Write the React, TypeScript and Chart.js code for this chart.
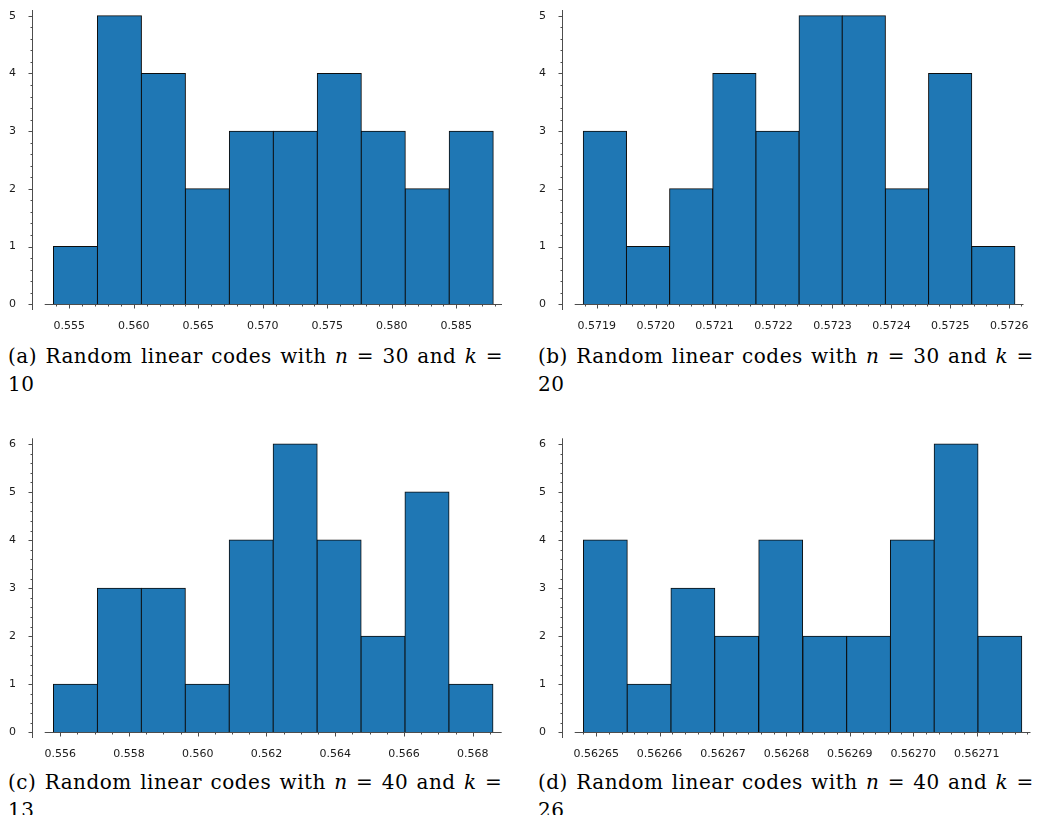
import React, { useEffect, useRef } from "react";
import { Chart, registerables } from "chart.js";
Chart.register(...registerables);

// ---------- data ----------
const aEdges = [0.553773, 0.557181, 0.56059, 0.563998, 0.567407, 0.570815, 0.574223, 0.577632, 0.58104, 0.584449, 0.587857];
const aCounts = [1, 5, 4, 2, 3, 3, 4, 3, 2, 3];
const aTicks = [0.555, 0.56, 0.565, 0.57, 0.575, 0.58, 0.585];
const aTickLabels = ["0.555", "0.560", "0.565", "0.570", "0.575", "0.580", "0.585"];

const bEdges = [0.5718773, 0.5719505, 0.5720237, 0.572097, 0.5721702, 0.5722434, 0.5723166, 0.5723898, 0.5724631, 0.5725363, 0.5726095];
const bCounts = [3, 1, 2, 4, 3, 5, 5, 2, 4, 1];
const bTicks = [0.5719, 0.572, 0.5721, 0.5722, 0.5723, 0.5724, 0.5725, 0.5726];
const bTickLabels = ["0.5719", "0.5720", "0.5721", "0.5722", "0.5723", "0.5724", "0.5725", "0.5726"];

const cEdges = [0.555805, 0.557083, 0.558361, 0.559639, 0.560917, 0.562195, 0.563473, 0.564751, 0.566029, 0.567307, 0.568585];
const cCounts = [1, 3, 3, 1, 4, 6, 4, 2, 5, 1];
const cTicks = [0.556, 0.558, 0.56, 0.562, 0.564, 0.566, 0.568];
const cTickLabels = ["0.556", "0.558", "0.560", "0.562", "0.564", "0.566", "0.568"];

const dEdges = [0.562648, 0.5626549, 0.5626618, 0.5626687, 0.5626756, 0.5626826, 0.5626895, 0.5626964, 0.5627033, 0.5627102, 0.5627171];
const dCounts = [4, 1, 3, 2, 4, 2, 2, 4, 6, 2];
const dTicks = [0.56265, 0.56266, 0.56267, 0.56268, 0.56269, 0.5627, 0.56271];
const dTickLabels = ["0.56265", "0.56266", "0.56267", "0.56268", "0.56269", "0.56270", "0.56271"];

const yTicksFive = [0, 1, 2, 3, 4, 5];
const yTicksSix = [0, 1, 2, 3, 4, 5, 6];

const captionLetters = ["(a)", "(b)", "(c)", "(d)"];
const nValues = ["30", "30", "40", "40"];
const kValues = ["10", "20", "13", "26"];

// ---------- style ----------
const BAR_FILL = "#1f77b4";
const BAR_EDGE = "#0d0d0d";
const AXIS_COLOR = "#4d4d4d";
const LABEL_COLOR = "#1a1a1a";
const Y_W = 25;
const X_H = 20;
const GAP = 11.7;
const TICK_FONT = "'DejaVu Sans', 'Liberation Sans', Verdana, sans-serif";
const CAPTION_FONT = "'DejaVu Serif', 'Liberation Serif', 'Noto Serif', 'Times New Roman', serif";

const sageAxes = {
  id: "sageAxes",
  afterDatasetsDraw(chart: any, _args: any, opts: any) {
    const { ctx, chartArea: ca, scales } = chart;
    const x = scales.x;
    const y = scales.y;
    ctx.save();
    ctx.strokeStyle = AXIS_COLOR;
    ctx.lineWidth = 1;
    const seg = (x1: number, y1: number, x2: number, y2: number) => {
      ctx.beginPath();
      ctx.moveTo(x1, y1);
      ctx.lineTo(x2, y2);
      ctx.stroke();
    };
    // y axis
    const ax = Math.round(ca.left) - 0.5;
    seg(ax, ca.top, ax, ca.bottom);
    const yt: number[] = opts.yTicks;
    yt.forEach((v) => {
      const py = Math.round(y.getPixelForValue(v)) + 0.5;
      seg(ax - 4, py, ax, py);
    });
    const ySub = opts.ySub;
    const yStep = yt[1] - yt[0];
    for (let k = 0; k <= (yt.length - 1) * ySub + ySub; k++) {
      if (k % ySub === 0) continue;
      const v = yt[0] + (k * yStep) / ySub;
      if (v < y.min || v > y.max) continue;
      const py = Math.round(y.getPixelForValue(v)) + 0.5;
      seg(ax - 2, py, ax, py);
    }
    // x axis at y = 0
    const y0 = Math.round(y.getPixelForValue(0)) + 0.5;
    const xs = x.getPixelForValue(opts.lo);
    seg(xs, y0, ca.right, y0);
    const xt: number[] = opts.xTicks;
    const xStep = xt[1] - xt[0];
    xt.forEach((v) => {
      const px = Math.round(x.getPixelForValue(v)) + 0.5;
      seg(px, y0, px, y0 + 4);
    });
    const sub = opts.xSub;
    for (let k = -sub; k <= (xt.length - 1) * sub + sub; k++) {
      if (k % sub === 0) continue;
      const v = xt[0] + (k * xStep) / sub;
      if (v < opts.lo || v > x.max) continue;
      const px = Math.round(x.getPixelForValue(v)) + 0.5;
      seg(px, y0, px, y0 + 2);
    }
    ctx.restore();
  },
};

type Cfg = {
  left: number;
  top: number;
  width: number;
  height: number;
  padTop: number;
  padRight: number;
};

function Histogram(props: {
  edges: number[];
  counts: number[];
  ticks: number[];
  tickLabels: string[];
  yTicks: number[];
  xSub: number;
  cfg: Cfg;
}) {
  const ref = useRef<HTMLCanvasElement>(null);
  const { edges, counts, ticks, tickLabels, yTicks, xSub, cfg } = props;
  useEffect(() => {
    const lo0 = edges[0];
    const hi0 = edges[edges.length - 1];
    const pad = 0.02 * (hi0 - lo0);
    const lo = lo0 - pad;
    const hi = hi0 + pad;
    const plotW = cfg.width - Y_W - cfg.padRight;
    const xmin = lo - (GAP * (hi - lo)) / (plotW - GAP);
    const ymax = Math.max(...counts);
    const data = counts.map((c, i) => ({ x: (edges[i] + edges[i + 1]) / 2, y: c }));
    const font = { family: TICK_FONT, size: 11 };
    const chart = new Chart(ref.current as HTMLCanvasElement, {
      type: "bar",
      data: {
        datasets: [
          {
            data: data as any,
            backgroundColor: BAR_FILL,
            borderColor: BAR_EDGE,
            borderWidth: 1,
            borderSkipped: "start",
            inflateAmount: 0.5,
            barPercentage: 1,
            categoryPercentage: 1,
          } as any,
        ],
      },
      options: {
        responsive: false,
        animation: false,
        devicePixelRatio: 1,
        layout: { padding: { top: cfg.padTop, right: cfg.padRight, left: 0, bottom: 0 } },
        plugins: {
          legend: { display: false },
          tooltip: { enabled: false },
          sageAxes: { lo, xTicks: ticks, xSub, yTicks, ySub: 5 },
        } as any,
        scales: {
          x: {
            type: "linear",
            min: xmin,
            max: hi,
            bounds: "data",
            offset: false,
            grid: { display: false },
            border: { display: false },
            afterBuildTicks: (s: any) => {
              s.ticks = ticks.map((v) => ({ value: v }));
            },
            afterFit: (s: any) => {
              s.height = X_H;
              s.paddingLeft = 0;
              s.paddingRight = 0;
            },
            ticks: {
              autoSkip: false,
              maxRotation: 0,
              padding: 2,
              color: LABEL_COLOR,
              font,
              callback: (_v: any, i: number) => tickLabels[i],
            },
          },
          y: {
            type: "linear",
            min: -0.02 * ymax,
            max: 1.02 * ymax,
            bounds: "data",
            grid: { display: false },
            border: { display: false },
            afterBuildTicks: (s: any) => {
              s.ticks = yTicks.map((v) => ({ value: v }));
            },
            afterFit: (s: any) => {
              s.width = Y_W;
              s.paddingTop = 0;
              s.paddingBottom = 0;
            },
            ticks: {
              padding: 9,
              color: LABEL_COLOR,
              font,
              callback: (v: any) => String(v),
            },
          },
        } as any,
      },
      plugins: [sageAxes as any],
    });
    return () => chart.destroy();
  }, []);
  return (
    <canvas
      ref={ref}
      width={cfg.width}
      height={cfg.height}
      style={{ position: "absolute", left: cfg.left, top: cfg.top, width: cfg.width, height: cfg.height }}
    />
  );
}

function Caption(props: { i: number; left: number; top: number }) {
  const { i, left, top } = props;
  return (
    <div
      style={{
        position: "absolute",
        left,
        top,
        fontFamily: CAPTION_FONT,
        fontSize: 20,
        lineHeight: "28px",
        color: "#000",
        whiteSpace: "nowrap",
        letterSpacing: "0.5px",
        wordSpacing: "1.5px",
      }}
    >
      {captionLetters[i]} Random linear codes with <i>n</i> = {nValues[i]} and <i>k</i> =
      <br />
      {kValues[i]}
    </div>
  );
}

export default function App() {
  // positions relative to #root (page - 8)
  const cA: Cfg = { left: 0, top: 0, width: 506, height: 322, padTop: 2, padRight: 12 };
  const cB: Cfg = { left: 530, top: 0, width: 502, height: 322, padTop: 2, padRight: 16.5 };
  const cC: Cfg = { left: 0, top: 428, width: 506, height: 322, padTop: 2.3, padRight: 12.3 };
  const cD: Cfg = { left: 530, top: 428, width: 502, height: 322, padTop: 2.3, padRight: 9.5 };
  return (
    <div style={{ position: "relative", width: 1034, height: 807, overflow: "hidden" }}>
      <Histogram edges={aEdges} counts={aCounts} ticks={aTicks} tickLabels={aTickLabels} yTicks={yTicksFive} xSub={5} cfg={cA} />
      <Histogram edges={bEdges} counts={bCounts} ticks={bTicks} tickLabels={bTickLabels} yTicks={yTicksFive} xSub={5} cfg={cB} />
      <Histogram edges={cEdges} counts={cCounts} ticks={cTicks} tickLabels={cTickLabels} yTicks={yTicksSix} xSub={4} cfg={cC} />
      <Histogram edges={dEdges} counts={dCounts} ticks={dTicks} tickLabels={dTickLabels} yTicks={yTicksSix} xSub={5} cfg={cD} />
      <Caption i={0} left={0} top={334} />
      <Caption i={1} left={530} top={334} />
      <Caption i={2} left={0} top={760} />
      <Caption i={3} left={530} top={760} />
    </div>
  );
}
